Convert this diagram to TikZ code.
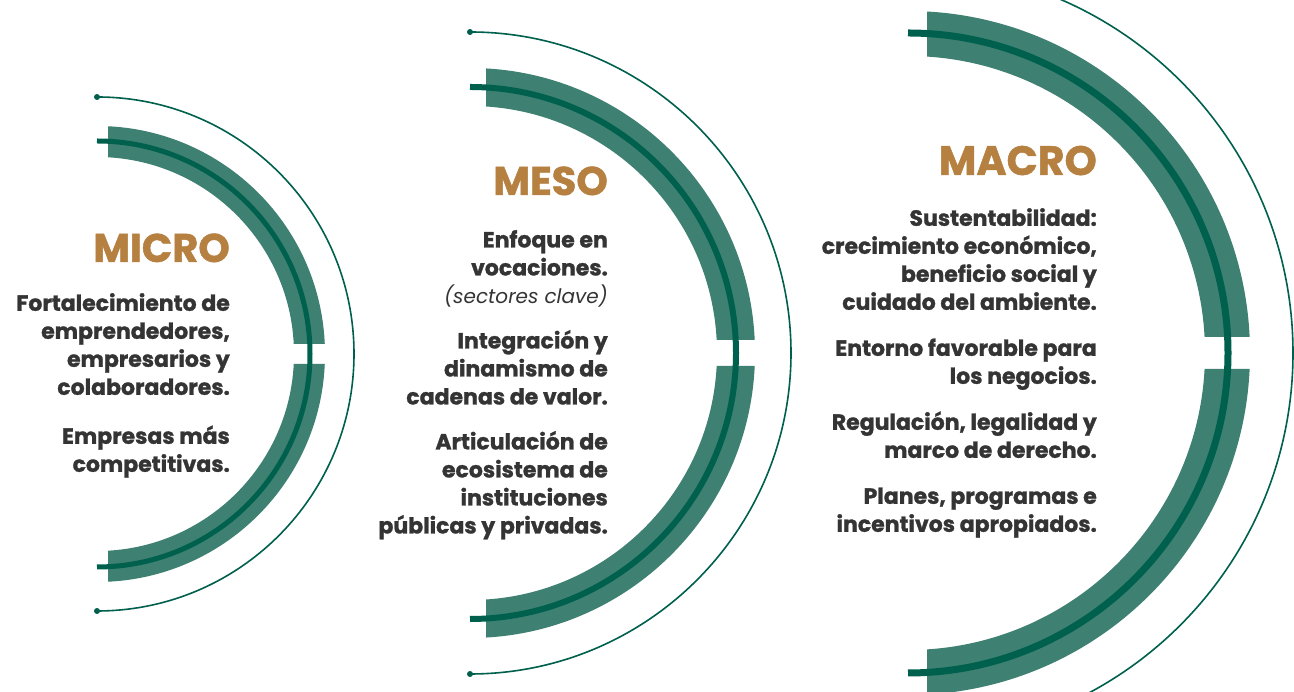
\documentclass[tikz,border=0pt]{standalone}
\usepackage{fontspec}
\setmainfont{Poppins}[BoldFeatures={FakeBold=1.2}]
\usetikzlibrary{positioning}
\definecolor{bandgreen}{RGB}{62,128,113}
\definecolor{darkgreen}{RGB}{0,96,78}
\definecolor{ochre}{RGB}{181,128,64}
\definecolor{inkgray}{RGB}{52,52,52}
\tikzset{
  band/.style={fill=bandgreen, even odd rule},
  core/.style={draw=darkgreen},
  rim/.style={draw=darkgreen, line width=1.6pt},
  tip/.style={fill=darkgreen},
  level/.style={
    font=\fontsize{40}{44}\selectfont\bfseries, text=ochre,
    inner sep=0pt, anchor=base east
  },
  desc/.style={
    font=\fontsize{22}{28}\selectfont\bfseries, text=inkgray,
    align=right, inner sep=0pt, anchor=north east
  }
}
\begin{document}
\begin{tikzpicture}[x=1pt, y=1pt]
  \clip (0,0) rectangle (1294,692);
  \fill[white] (0,0) rectangle (1294,692);
  % micro
  \coordinate (micro-c) at (97,338);
  \begin{scope}
    \clip (108,348) rectangle (340,580) (108,328) rectangle (340,100);
    \fill[band] (micro-c) circle (228) (micro-c) circle (197);
  \end{scope}
  \draw[core, line width=5pt] ([yshift=213pt]micro-c) arc[start angle=90, end angle=-90, radius=213];
  \coordinate (micro-top) at (97,595);
  \coordinate (micro-bot) at (97,81);
  \draw[rim] (micro-top) arc[start angle=90, end angle=-90, radius=257];
  \fill[tip] (micro-top) circle (3) (micro-bot) circle (3);
  % meso
  \coordinate (meso-c) at (470,339);
  \begin{scope}
    \clip (486,352) rectangle (800,680) (486,326) rectangle (800,0);
    \fill[band] (meso-c) circle (285) (meso-c) circle (247);
  \end{scope}
  \draw[core, line width=6pt] ([yshift=266pt]meso-c) arc[start angle=90, end angle=-90, radius=266];
  \coordinate (meso-top) at (470,660);
  \coordinate (meso-bot) at (470,18);
  \draw[rim] (meso-top) arc[start angle=90, end angle=-90, radius=321];
  \fill[tip] (meso-top) circle (3) (meso-bot) circle (3);
  % macro
  \coordinate (macro-c) at (908,339);
  \begin{scope}
    \clip (927,355) rectangle (1300,700) (927,323) rectangle (1300,-20);
    \fill[band] (macro-c) circle (342) (macro-c) circle (297);
  \end{scope}
  \draw[core, line width=7pt] ([yshift=320pt]macro-c) arc[start angle=90, end angle=-90, radius=320];
  \coordinate (macro-top) at (908,724);
  \draw[rim] (macro-top) arc[start angle=90, end angle=-90, radius=385];

  \node[level] (micro) at (230,430) {MICRO};
  \node[desc] (micro-text) at (230,399) {Fortalecimiento de\\emprendedores,\\empresarios y\\colaboradores.\\[21pt]Empresas más\\competitivas.};
  \node[level] (meso) at (608,497) {MESO};
  \node[desc] (meso-text) at (608,462) {Enfoque en\\vocaciones.\\{\fontsize{20}{28}\selectfont\normalfont\itshape (sectores clave)}\\[17pt]Integración y\\dinamismo de\\cadenas de valor.\\[17pt]Articulación de\\ecosistema de\\instituciones\\públicas y privadas.};
  \node[level, font=\fontsize{41}{46}\selectfont\bfseries] (macro) at (1097,517) {MACRO};
  \node[desc] (macro-text) at (1097,484) {Sustentabilidad:\\crecimiento económico,\\beneficio social y\\cuidado del ambiente.\\[18pt]Entorno favorable para\\los negocios.\\[18pt]Regulación, legalidad y\\marco de derecho.\\[18pt]Planes, programas e\\incentivos apropiados.};
\end{tikzpicture}
\end{document}
